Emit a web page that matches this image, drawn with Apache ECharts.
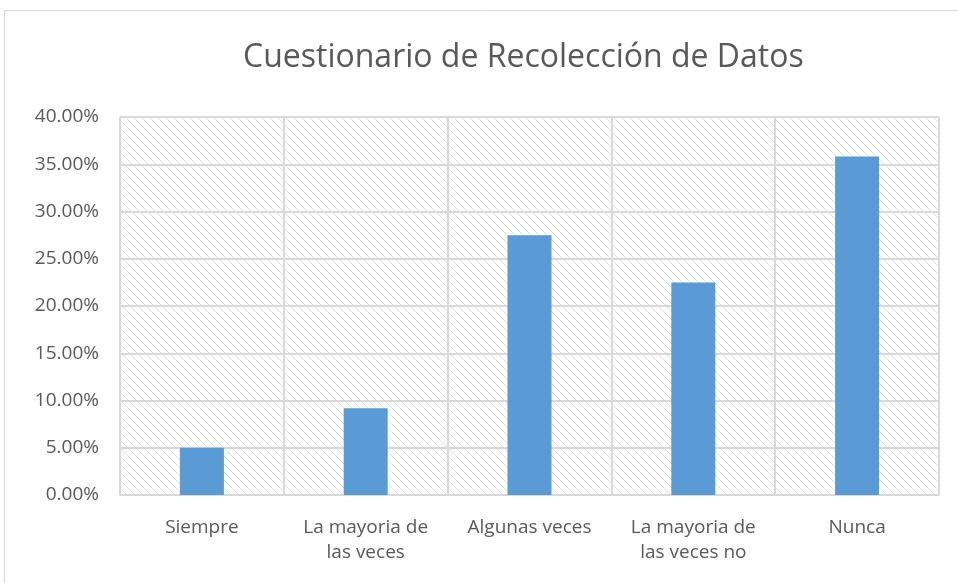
<!DOCTYPE html>
<html>
   <head>
       <meta charset="utf-8">
   </head>
   <body style="margin:0;">
       <div id="container" style="height: 583px;width: 958px;"></div>
   </body>
</html>
<script type="text/javascript" src="https://cdn.jsdelivr.net/npm/echarts@6/dist/echarts.min.js"></script>
<script type="text/javascript">
    // datos del cuestionario
    const categories = ['Siempre', 'La mayoria de\nlas veces', 'Algunas veces', 'La mayoria de\nlas veces no', 'Nunca'];
    const percentValues = [0.05, 0.0917, 0.275, 0.225, 0.3583];
    const yTicks = [0, 0.05, 0.10, 0.15, 0.20, 0.25, 0.30, 0.35, 0.40];

    drawChart();
    function drawChart() {
        const dom = document.getElementById("container");
        const myChart = echarts.init(dom);

        // rayado diagonal del fondo
        const tile = document.createElement('canvas');
        tile.width = 8;
        tile.height = 8;
        const ctx = tile.getContext('2d');
        ctx.fillStyle = '#ffffff';
        ctx.fillRect(0, 0, 8, 8);
        ctx.fillStyle = '#e0e0e0';
        for (let i = 0; i < 8; i++) {
            ctx.fillRect(i, i, 1, 1);
        }

        const font = 'Open Sans';
        const option = {
            backgroundColor: '#ffffff',
            title: {
                text: 'Cuestionario de Recolección de Datos',
                left: 238,
                top: 37,
                textStyle: {
                    fontFamily: font,
                    fontSize: 32,
                    fontWeight: 'normal',
                    color: '#595959'
                }
            },
            graphic: [{
                type: 'rect',
                shape: { x: 4.5, y: 10.5, width: 1000, height: 1000 },
                style: { fill: 'none', stroke: '#d9d9d9', lineWidth: 1 },
                silent: true
            }],
            grid: {
                left: 120,
                right: 19,
                top: 117,
                bottom: 88,
                show: true,
                backgroundColor: { image: tile, repeat: 'repeat' },
                borderColor: '#d9d9d9',
                borderWidth: 1
            },
            xAxis: {
                type: 'category',
                data: categories,
                axisLine: { lineStyle: { color: '#d9d9d9' } },
                axisTick: { show: false },
                splitLine: { show: true, interval: 0, lineStyle: { color: '#d9d9d9', width: 2 } },
                axisLabel: {
                    interval: 0,
                    margin: 20,
                    fontFamily: font,
                    fontSize: 19,
                    lineHeight: 25,
                    color: '#595959'
                }
            },
            yAxis: {
                type: 'value',
                min: yTicks[0],
                max: yTicks[yTicks.length - 1],
                interval: 0.05,
                axisLine: { show: false },
                axisTick: { show: false },
                splitLine: { lineStyle: { color: '#d9d9d9', width: 2 } },
                axisLabel: {
                    margin: 21,
                    fontFamily: font,
                    fontSize: 19,
                    color: '#595959',
                    formatter: function (v) {
                        return (v * 100).toFixed(2) + '%';
                    }
                }
            },
            series: [{
                type: 'bar',
                data: percentValues,
                barWidth: 44,
                itemStyle: { color: '#5b9bd5' }
            }]
        };
        myChart.setOption(option, true);
    }
</script>
